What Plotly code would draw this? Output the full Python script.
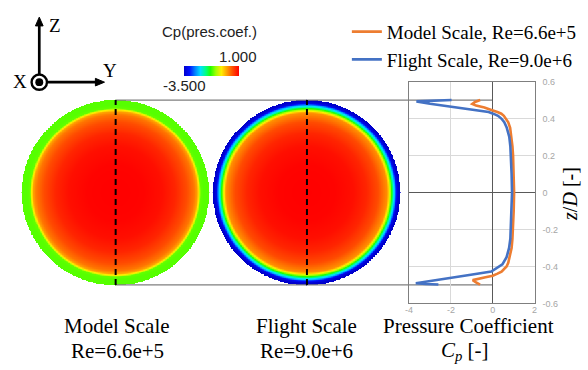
import numpy as np
import plotly.graph_objects as go

W, H = 588, 370

# ---- Cp profiles along the vertical centre line (z/D, top to bottom) ----
z_model = [0.500, 0.490, 0.479, 0.470, 0.460, 0.452, 0.444, 0.435, 0.426, 0.415,
           0.400, 0.380, 0.350, 0.300, 0.250, 0.200, 0.100, 0.000, -0.100, -0.200,
           -0.250, -0.300, -0.350, -0.380, -0.400, -0.415, -0.428, -0.440, -0.450,
           -0.458, -0.466, -0.474, -0.486, -0.498]
cp_model = [-0.60, -0.85, -0.98, -0.80, -0.40, -0.15, 0.00, 0.22, 0.41, 0.53,
            0.64, 0.74, 0.83, 0.90, 0.94, 0.97, 1.00, 1.02, 1.00, 0.97,
            0.94, 0.90, 0.82, 0.74, 0.66, 0.55, 0.42, 0.20, 0.00,
            -0.35, -0.70, -0.96, -0.80, -0.61]

z_flight = [0.500, 0.497, 0.493, 0.480, 0.470, 0.460, 0.450, 0.442, 0.435, 0.425,
            0.415, 0.400, 0.380, 0.350, 0.300, 0.250, 0.200, 0.100, 0.000, -0.100,
            -0.200, -0.250, -0.300, -0.350, -0.389, -0.415, -0.428, -0.445, -0.468,
            -0.491, -0.495, -0.498]
cp_flight = [-1.97, -3.00, -3.65, -3.00, -2.32, -1.72, -1.11, -0.60, -0.20, 0.05,
             0.25, 0.41, 0.55, 0.67, 0.79, 0.84, 0.87, 0.90, 0.92, 0.90,
             0.87, 0.84, 0.78, 0.66, 0.46, 0.12, -0.07, -1.05, -2.42,
             -3.68, -3.20, -2.60]

# ---- radial Cp distribution on each face (r/D, centre to rim) ----
r_model_face = [0.00, 0.15, 0.25, 0.32, 0.38, 0.42, 0.437, 0.447, 0.455, 0.47, 0.50]
cp_model_face = [1.00, 0.98, 0.90, 0.75, 0.50, 0.25, 0.00, -0.50, -1.10, -1.15, -1.15]

r_flight_face = [0.00, 0.15, 0.25, 0.32, 0.38, 0.43, 0.440, 0.452, 0.462, 0.472, 0.480, 0.490, 0.50]
cp_flight_face = [1.00, 0.98, 0.90, 0.75, 0.50, 0.10, -0.40, -1.20, -1.90, -2.50, -3.20, -3.50, -3.50]

CP_MIN, CP_MAX = -3.5, 1.0
x_ticks = [-4, -2, 0, 2]
x_ticktext = ["-4", "-2", "0", "2"]
y_ticks = [-0.6, -0.4, -0.2, 0, 0.2, 0.4, 0.6]
y_ticktext = ["-0.6", "-0.4", "-0.2", "0", "0.2", "0.4", "0.6"]

COLORSCALE = [
    [0.00, "#0000cc"], [0.10, "#0010ff"], [0.20, "#0080ff"], [0.30, "#00e0ff"],
    [0.40, "#00ff80"], [0.48, "#20ff00"], [0.58, "#a0ff00"], [0.68, "#ffee00"],
    [0.78, "#ffa000"], [0.88, "#ff5000"], [1.00, "#ff0000"],
]

ORANGE = "#ED7D31"
BLUE = "#4472C4"
SERIF = "Liberation Serif"


def fx(px):
    return px / W


def fy(py):
    return 1 - py / H


# ---- layout geometry (pixels) ----
PLOT_TOP, PLOT_BOT = 78.7, 306.7          # z/D = +0.6 ... -0.6
SCALE = (PLOT_BOT - PLOT_TOP) / 1.2       # pixels per unit of z/D
FACE1_PX, FACE2_PX = 113.0, 306.6         # centre lines of the two faces
CP_LEFT, CP_RIGHT = 410.0, 537.0          # Cp plot frame
CP_ZERO = CP_LEFT + (0 - x_ticks[0]) / (x_ticks[-1] - x_ticks[0]) * (CP_RIGHT - CP_LEFT)

face_x_range = [-FACE1_PX / SCALE, (CP_ZERO - FACE1_PX) / SCALE]
face2_cx = (FACE2_PX - FACE1_PX) / SCALE


def face_field(r_vals, cp_vals, n=281):
    g = np.linspace(-0.5, 0.5, n)
    gx, gy = np.meshgrid(g, g)
    r = np.hypot(gx, gy)
    f = np.interp(r, r_vals, cp_vals)
    f = np.where(r <= 0.5, np.round(f, 3), np.nan)
    return g, f


fig = go.Figure()

g, f1 = face_field(r_model_face, cp_model_face)
_, f2 = face_field(r_flight_face, cp_flight_face)

fig.add_trace(go.Heatmap(
    x=g, y=g, z=f1, xaxis="x", yaxis="y", zmin=CP_MIN, zmax=CP_MAX,
    colorscale=COLORSCALE, hoverinfo="skip", showscale=True,
    colorbar=dict(orientation="h", x=fx(209.5), xanchor="center",
                  y=fy(62.3), yanchor="top", len=55.6 / W, lenmode="fraction",
                  thickness=10.4, thicknessmode="pixels", outlinewidth=0,
                  showticklabels=False, ticks="", xpad=0, ypad=0),
))
fig.add_trace(go.Heatmap(
    x=g + face2_cx, y=g, z=f2, xaxis="x", yaxis="y", zmin=CP_MIN, zmax=CP_MAX,
    colorscale=COLORSCALE, hoverinfo="skip", showscale=False,
))

# horizontal guides at z/D = +-0.5 from the first face to Cp = 0
for zz in (0.5, -0.5):
    fig.add_trace(go.Scatter(
        x=[0, face_x_range[1]], y=[zz, zz], xaxis="x", yaxis="y", mode="lines",
        line=dict(color="#7f7f7f", width=1.2), hoverinfo="skip", showlegend=False))

# dashed centre lines on each face
for cx in (0, face2_cx):
    fig.add_trace(go.Scatter(
        x=[cx, cx], y=[-0.5, 0.5], xaxis="x", yaxis="y", mode="lines",
        line=dict(color="black", width=2, dash="6px,4px"), hoverinfo="skip",
        showlegend=False))

# Cp profiles
fig.add_trace(go.Scatter(
    x=cp_model, y=z_model, xaxis="x2", yaxis="y2", mode="lines",
    name="Model Scale, Re=6.6e+5", line=dict(color=ORANGE, width=2.6)))
fig.add_trace(go.Scatter(
    x=cp_flight, y=z_flight, xaxis="x2", yaxis="y2", mode="lines",
    name="Flight Scale, Re=9.0e+6", line=dict(color=BLUE, width=2.6)))

ydom = [fy(PLOT_BOT), fy(PLOT_TOP)]
tickfont = dict(family="Liberation Sans", size=9, color="#a6a6a6")

fig.update_layout(
    width=W, height=H, margin=dict(l=0, r=0, t=0, b=0),
    paper_bgcolor="white", plot_bgcolor="rgba(0,0,0,0)",
    xaxis=dict(domain=[0, fx(CP_ZERO)], range=face_x_range, visible=False,
               anchor="y", fixedrange=True),
    yaxis=dict(domain=ydom, range=[-0.6, 0.6], visible=False, anchor="x",
               fixedrange=True),
    xaxis2=dict(domain=[fx(CP_LEFT), fx(CP_RIGHT)], range=[x_ticks[0], x_ticks[-1]],
                anchor="y2", tickvals=x_ticks, ticktext=x_ticktext, ticks="",
                showgrid=True, gridcolor="#d9d9d9", gridwidth=1,
                zeroline=True, zerolinecolor="#595959", zerolinewidth=1.2,
                showline=True, linecolor="#7f7f7f", linewidth=1.2, mirror=True,
                tickfont=tickfont, ticklabelstandoff=-2),
    yaxis2=dict(domain=ydom, range=[-0.6, 0.6], anchor="x2", side="right",
                tickvals=y_ticks, ticktext=y_ticktext, ticks="",
                showgrid=True, gridcolor="#d9d9d9", gridwidth=1,
                zeroline=True, zerolinecolor="#595959", zerolinewidth=1.2,
                showline=True, linecolor="#7f7f7f", linewidth=1.2, mirror=True,
                tickfont=tickfont, ticklabelstandoff=5),
    legend=dict(x=fx(347), xanchor="left", y=fy(8), yanchor="top",
                font=dict(family=SERIF, size=19, color="black"),
                bgcolor="rgba(0,0,0,0)", tracegroupgap=0, itemwidth=30),
    showlegend=True,
)

# ---- coordinate triad ----
shapes = []
# Z arrow
shapes.append(dict(type="line", xref="paper", yref="paper",
                   x0=fx(35.7), y0=fy(72), x1=fx(35.7), y1=fy(20),
                   line=dict(color="black", width=2.7)))
shapes.append(dict(type="path", xref="paper", yref="paper",
                   path=f"M {fx(35.7)} {fy(12.5)} L {fx(31.8)} {fy(21.5)} L {fx(39.6)} {fy(21.5)} Z",
                   fillcolor="black", line=dict(color="black", width=1)))
# Y arrow
shapes.append(dict(type="line", xref="paper", yref="paper",
                   x0=fx(44), y0=fy(79.3), x1=fx(94), y1=fy(79.3),
                   line=dict(color="black", width=2.7)))
shapes.append(dict(type="path", xref="paper", yref="paper",
                   path=f"M {fx(101.7)} {fy(79.3)} L {fx(92.5)} {fy(75.4)} L {fx(92.5)} {fy(83.2)} Z",
                   fillcolor="black", line=dict(color="black", width=1)))
# X (out of plane) symbol
shapes.append(dict(type="circle", xref="paper", yref="paper",
                   x0=fx(35.7 - 7.8), x1=fx(35.7 + 7.8), y0=fy(79.3 + 7.8), y1=fy(79.3 - 7.8),
                   fillcolor="white", line=dict(color="black", width=2.4)))
shapes.append(dict(type="circle", xref="paper", yref="paper",
                   x0=fx(35.7 - 4), x1=fx(35.7 + 4), y0=fy(79.3 + 4), y1=fy(79.3 - 4),
                   fillcolor="black", line=dict(color="black", width=0)))
fig.update_layout(shapes=shapes)

ann = []


def text(s, x, y, size, family=SERIF, xanchor="center", color="black"):
    ann.append(dict(text=s, x=fx(x), y=fy(y), xref="paper", yref="paper",
                    xanchor=xanchor, yanchor="middle", showarrow=False,
                    font=dict(family=family, size=size, color=color)))


text("Z", 51.5, 21, 19)
text("Y", 107.5, 67.5, 19)
text("X", 16, 79, 19)

text("Cp(pres.coef.)", 208, 27, 15, family="Liberation Sans", color="#222")
text("1.000", 258.5, 52.5, 15, family="Liberation Sans", xanchor="right", color="#222")
text("-3.500", 159, 82.5, 15, family="Liberation Sans", xanchor="left", color="#222")

text("Model Scale", 114.5, 330, 21)
text("Re=6.6e+5", 114.5, 356, 21)
text("Flight Scale", 306, 330, 21)
text("Re=9.0e+6", 306, 356, 21)
text("Pressure Coefficient", 470, 330, 21)
text("<i>C</i><sub><i>p</i></sub> [-]", 467, 356, 21)

ann.append(dict(text="<i>z</i>/<i>D</i> [-]", x=fx(573), y=fy(194), xref="paper",
                yref="paper", xanchor="center", yanchor="middle", showarrow=False,
                textangle=-90, font=dict(family=SERIF, size=20, color="black")))

fig.update_layout(annotations=ann)

fig.write_html("out.html")
